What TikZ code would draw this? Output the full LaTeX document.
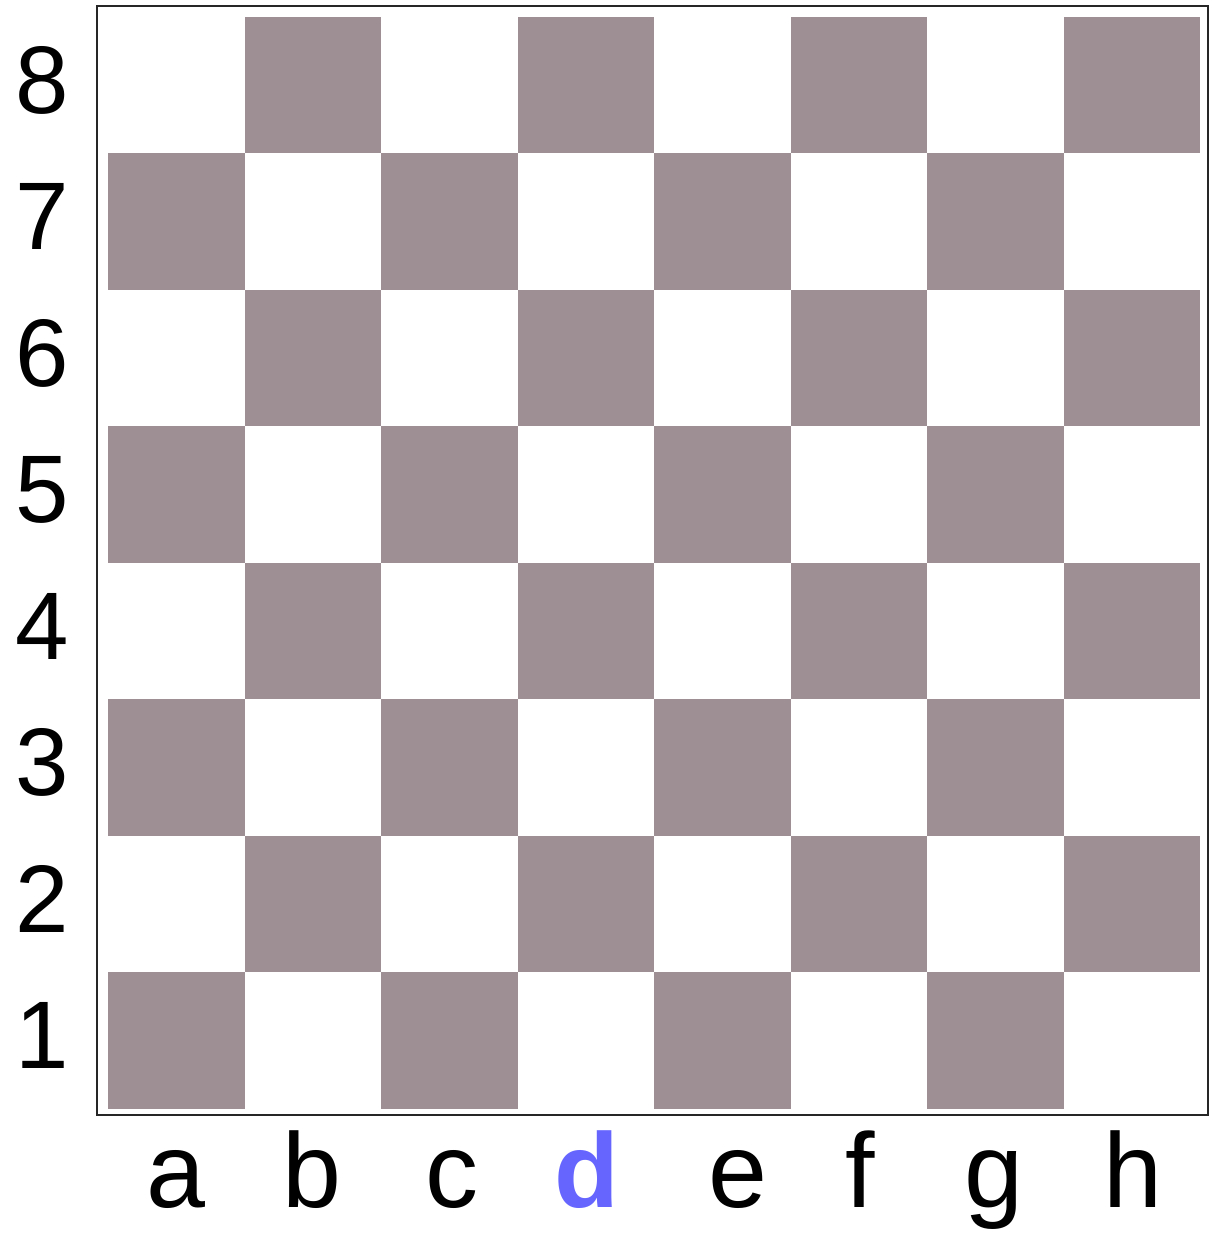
\documentclass[tikz,border=0pt]{standalone}
\usepackage{fontspec}
\setmainfont{Liberation Sans}
\usetikzlibrary{positioning}
\definecolor{boardgrey}{RGB}{158,143,148}
\definecolor{fileblue}{RGB}{102,102,255}
\tikzset{
  square/.style={draw=none, minimum size=136.5pt, inner sep=0pt, outer sep=0pt},
  darksq/.style={square, fill=boardgrey},
  lightsq/.style={square, fill=white},
  frameline/.style={line width=2.5pt, draw=black!85},
  ranklab/.style={font=\fontsize{96}{100}\selectfont, inner sep=0pt},
  filelab/.style={font=\fontsize{106}{110}\selectfont, inner sep=0pt, anchor=base}
}

\begin{document}
\begin{tikzpicture}[x=1pt,y=1pt]
\useasboundingbox[fill=white] (0,0) rectangle (1211,1239);

% Board squares
\foreach \f [count=\i from 0] in {a,b,c,d,e,f,g,h}{
  \foreach \r in {1,...,8}{
    \pgfmathtruncatemacro\isdark{mod(\i+\r,2)}
    \ifnum\isdark=1
      \node[darksq] (sq\f\r) at ({108+136.5*(\i+0.5)},{130+136.5*(\r-0.5)}) {};
    \else
      \node[lightsq] (sq\f\r) at ({108+136.5*(\i+0.5)},{130+136.5*(\r-0.5)}) {};
    \fi
  }
}

% Frame
\node[frameline, minimum width=1111pt, minimum height=1109pt,
  inner sep=0pt] (frame) at (652.5,678.5) {};

% Rank labels
\foreach \r in {1,...,8}{
  \node[ranklab] (rank\r) at (42,{130+136.5*(\r-0.5)+5}) {\r};
}

% File labels
\foreach \f/\x in {a/176,b/312,c/452,e/738,f/860,g/994,h/1133}{
  \node[filelab] (file\f) at (\x,31) {\f};
}
\node[filelab, text=fileblue, font=\fontsize{106}{110}\selectfont\bfseries] (filed) at (587,31) {d};

\end{tikzpicture}
\end{document}
